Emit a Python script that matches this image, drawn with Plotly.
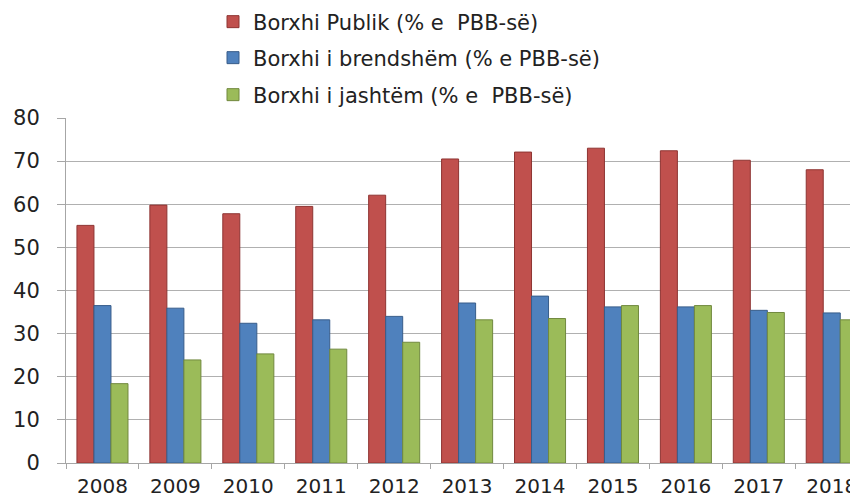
import plotly.graph_objects as go

years = ["2008", "2009", "2010", "2011", "2012", "2013", "2014", "2015", "2016", "2017", "2018"]
publik = [55.1, 59.8, 57.8, 59.5, 62.1, 70.5, 72.1, 73.0, 72.4, 70.2, 68.0]
brendshem = [36.5, 35.9, 32.4, 33.2, 34.0, 37.1, 38.7, 36.2, 36.2, 35.4, 34.8]
jashtem = [18.4, 23.9, 25.3, 26.4, 28.0, 33.2, 33.5, 36.5, 36.5, 34.9, 33.2]

names = ["Borxhi Publik (% e \u00a0PBB-së)",
         "Borxhi i brendshëm (% e PBB-së)",
         "Borxhi i jashtëm (% e \u00a0PBB-së)"]
colors = ["#C0504D", "#4F81BD", "#9BBB59"]
edges = ["#8E3432", "#385D8A", "#71893F"]
series = [publik, brendshem, jashtem]
legends = ["legend", "legend2", "legend3"]

fig = go.Figure()
for nm, vals, c, e, lg in zip(names, series, colors, edges, legends):
    fig.add_trace(go.Bar(x=years, y=vals, name=nm, legend=lg, showlegend=True,
                         marker=dict(color=c, line=dict(color=e, width=1))))

font = "DejaVu Sans, Verdana, sans-serif"
OFF = 8  # page body margin
W, H = 858, 497
# target plot area in page pixels
PL, PT, PR, PB = 66, 118, 858, 463
L = PL - OFF
T = PT - OFF
R = W - (PR - OFF)
B = H - (PB - OFF)
pw = W - L - R
ph = H - T - B

def leg(ycenter):
    return dict(x=(213 - OFF - L) / pw, xanchor="left",
                y=(PB - ycenter) / ph, yanchor="middle",
                font=dict(family=font, size=21, color="#222222"),
                bgcolor="rgba(0,0,0,0)", itemwidth=30, visible=True)

fig.update_layout(
    width=W, height=H, showlegend=True,
    margin=dict(l=L, r=R, t=T, b=B, autoexpand=False),
    paper_bgcolor="white", plot_bgcolor="white",
    barmode="group", bargap=0.30, bargroupgap=0,
    font=dict(family=font, color="#222222"),
    legend=leg(22), legend2=leg(58), legend3=leg(95),
    xaxis=dict(range=[-0.5, 10.36], showgrid=False, automargin=False,
               showline=True, linecolor="#A6A6A6", linewidth=1,
               ticks="outside", tickson="boundaries", ticklen=5,
               tickcolor="#A6A6A6", ticklabelstandoff=5,
               tickfont=dict(family=font, size=20, color="#222222")),
    yaxis=dict(range=[0, 80], dtick=10, showgrid=True, automargin=False,
               gridcolor="#B0B0B0", gridwidth=1,
               showline=True, linecolor="#A6A6A6", linewidth=1,
               ticks="outside", ticklen=8, tickcolor="#A6A6A6",
               ticklabelstandoff=13, zeroline=False,
               tickfont=dict(family=font, size=21, color="#222222")),
)

fig.write_html("out.html")
